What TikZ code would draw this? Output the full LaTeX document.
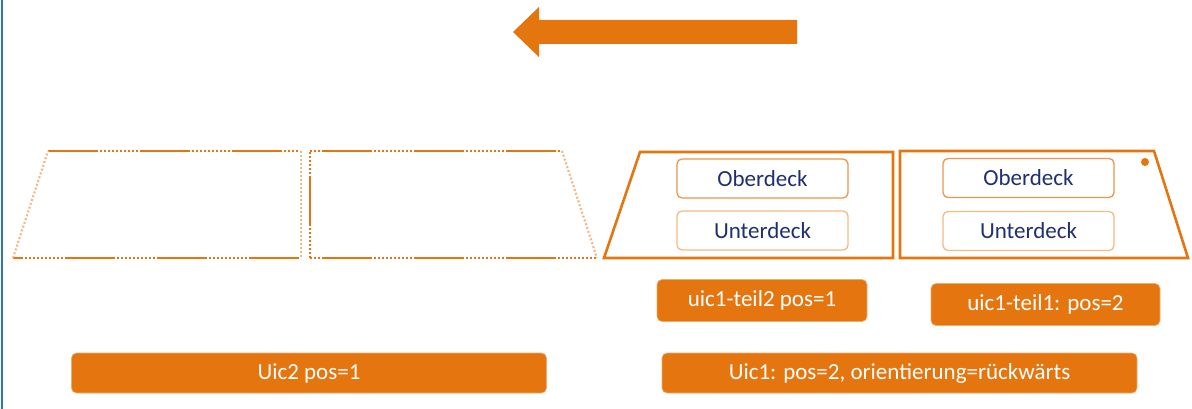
\documentclass[tikz,border=0pt]{standalone}
\usepackage{fontspec}
\setmainfont{Carlito}
\definecolor{og}{RGB}{228,117,15}
\definecolor{navy}{RGB}{32,48,110}
\definecolor{framecol}{RGB}{46,117,182}
\begin{document}
\begin{tikzpicture}[x=1pt,y=-1pt,
  solidw/.style={draw=og,line width=2.6pt,line join=miter},
  mixw/.style={draw=og,line width=2.6pt,dash pattern=on 50pt off 2pt on 2pt off 2pt on 2pt off 2pt on 2pt off 2pt on 2pt off 2pt on 2pt off 2pt on 2pt off 2pt on 2pt off 2pt on 2pt off 2pt on 2pt off 2pt on 2pt off 2pt},
  faintw/.style={draw=og!50,line width=2.2pt,dash pattern=on 2pt off 2pt},
  deck/.style={draw=og!75,line width=1.3pt,rounded corners=5pt,fill=white,text=navy,
    font=\fontsize{23}{26}\selectfont,minimum width=171pt,minimum height=39pt,inner sep=0pt},
  deckl/.style={deck,draw=og!50},
  lbl/.style={fill=og,draw=og!60!white,line width=0.6pt,rounded corners=5pt,text=white,
    font=\fontsize{23}{26}\selectfont,inner sep=0pt}]
\useasboundingbox (0,0) rectangle (1192,409);
\fill[white] (0,0) rectangle (1192,409);
\draw[framecol,line width=2pt] (1.5,0) -- (1.5,409);
% direction arrow
\fill[og] (797,20) -- (539,20) -- (539,7) -- (513,32) -- (539,57) -- (539,44) -- (797,44) -- cycle;
% wagon 1 (Uic2, dotted)
\draw[mixw] (48,151) -- (300,151);
\draw[mixw,dash phase=40pt] (13,258) -- (300,258);
\draw[faintw] (13,258) -- (48,151);
\draw[faintw] (301,151) -- (301,258);
% wagon 2
\draw[mixw,dash phase=60pt] (310,258) -- (310,151);
\draw[mixw,dash phase=80pt] (310,151) -- (562,151);
\draw[mixw,dash phase=80pt] (310,258) -- (597,258);
\draw[faintw] (562,151) -- (597,258);
% wagon 3
\draw[solidw] (604,258) -- (640,152) -- (893,152) -- (893,258) -- cycle;
% wagon 4
\draw[solidw] (900,151) -- (1154,151) -- (1188,258) -- (900,258) -- cycle;
\node[circle,fill=og,minimum size=8pt,inner sep=0pt] (lamp) at (1145,162) {};
% decks
\node[deck] (ob3) at (762.5,178.5) {Oberdeck};
\node[deckl] (un3) at (762.5,230.5) {Unterdeck};
\node[deck] (ob4) at (1028.5,178) {Oberdeck};
\node[deckl] (un4) at (1028.5,231) {Unterdeck};
% labels
\node[lbl,minimum width=210pt,minimum height=42pt] (t2) at (762,300.5) {uic1-teil2 pos=1};
\node[lbl,minimum width=229pt,minimum height=42pt] (t1) at (1045.5,304.5) {uic1-teil1: pos=2};
\node[lbl,minimum width=475pt,minimum height=40pt] (u2) at (309,373) {Uic2 pos=1};
\node[lbl,minimum width=475pt,minimum height=40pt] (u1) at (899.5,373) {Uic1: pos=2, orientierung=rückwärts};
\end{tikzpicture}
\end{document}
